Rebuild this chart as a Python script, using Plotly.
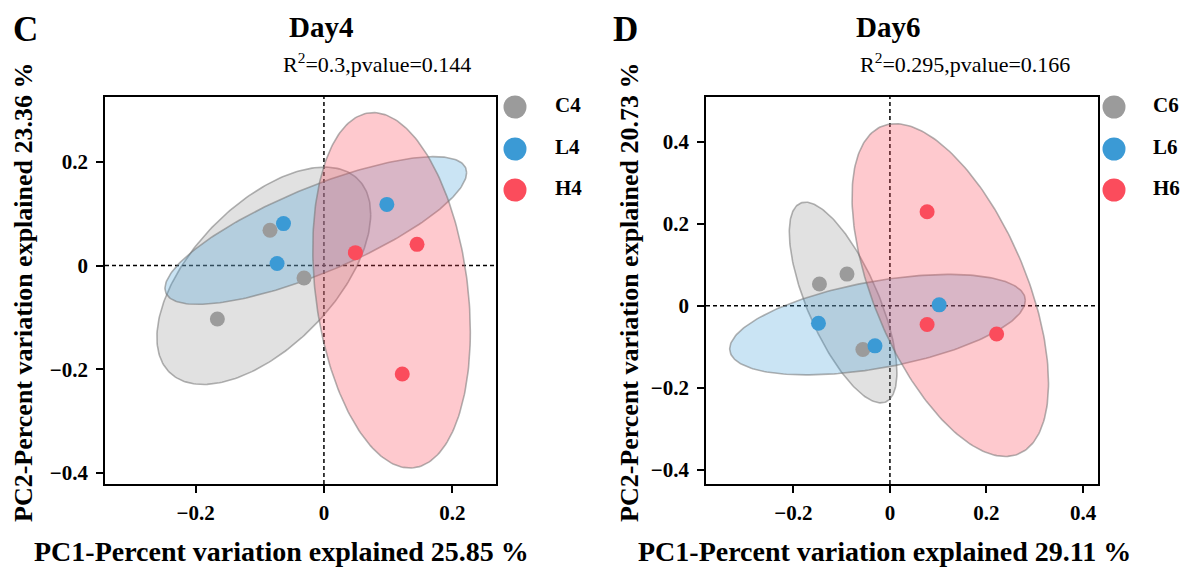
import numpy as np
import plotly.graph_objects as go

# ---------------- data ----------------
groups_day4 = ["C4", "L4", "H4"]
groups_day6 = ["C6", "L6", "H6"]

c4_pc1 = [-0.084, -0.031, -0.166]
c4_pc2 = [0.068, -0.024, -0.103]
l4_pc1 = [-0.063, -0.073, 0.098]
l4_pc2 = [0.081, 0.004, 0.118]
h4_pc1 = [0.049, 0.145, 0.122]
h4_pc2 = [0.025, 0.041, -0.209]

c6_pc1 = [-0.146, -0.089, -0.056]
c6_pc2 = [0.053, 0.077, -0.107]
l6_pc1 = [-0.148, -0.031, 0.102]
l6_pc2 = [-0.043, -0.098, 0.002]
h6_pc1 = [0.077, 0.077, 0.221]
h6_pc2 = [0.229, -0.046, -0.069]

x_ticks_day4 = [-0.2, 0, 0.2]
x_ticklabels_day4 = ["\u22120.2", "0", "0.2"]
y_ticks_day4 = [-0.4, -0.2, 0, 0.2]
y_ticklabels_day4 = ["\u22120.4", "\u22120.2", "0", "0.2"]
x_ticks_day6 = [-0.2, 0, 0.2, 0.4]
x_ticklabels_day6 = ["\u22120.2", "0", "0.2", "0.4"]
y_ticks_day6 = [-0.4, -0.2, 0, 0.2, 0.4]
y_ticklabels_day6 = ["\u22120.4", "\u22120.2", "0", "0.2", "0.4"]

pc1_var = [25.85, 29.11]
pc2_var = [23.36, 20.73]
r2_values = ["0.3", "0.295"]
p_values = ["0.144", "0.166"]
titles = ["Day4", "Day6"]
panel_letters = ["C", "D"]

# ---------------- style / page geometry ----------------
W, H = 1192, 569          # browser window
OFF = 8                   # default <body> margin of the html page
FW, FH = W - OFF, H - OFF  # figure size so that it ends exactly at window edge
FONT = "Liberation Serif"
point_colors = ["#9b9b9b", "#3b9ad5", "#fb4c5c"]
fill_colors = ["rgba(155,155,155,0.30)", "rgba(59,154,213,0.27)", "rgba(251,76,92,0.30)"]
outline = "rgba(115,115,115,0.55)"


def px(x):
    return (x - OFF) / FW


def py(y):
    return 1 - (y - OFF) / FH


K = np.sqrt(-2 * np.log(0.05))  # 95% chi-square radius, df=2


def ellipse(xs, ys, n=240):
    pts = np.vstack([xs, ys])
    mu = pts.mean(axis=1, keepdims=True)
    cov = np.cov(pts)
    L = np.linalg.cholesky(cov)
    t = np.linspace(0, 2 * np.pi, n)
    circ = np.vstack([np.cos(t), np.sin(t)])
    e = mu + K * L @ circ
    return e[0], e[1]


panels = [
    dict(groups=groups_day4, xs=[c4_pc1, l4_pc1, h4_pc1], ys=[c4_pc2, l4_pc2, h4_pc2],
         xaxis="x", yaxis="y", xdom=(105, 496), xr=(-0.341, 0.268), yr=(-0.421, 0.325),
         xt=(x_ticks_day4, x_ticklabels_day4), yt=(y_ticks_day4, y_ticklabels_day4),
         title_x=321, r2_x=377, letter_x=25, ytitle_x=23, xtitle_x=281,
         leg_x=515, leg_tx=555),
    dict(groups=groups_day6, xs=[c6_pc1, l6_pc1, h6_pc1], ys=[c6_pc2, l6_pc2, h6_pc2],
         xaxis="x2", yaxis="y2", xdom=(706, 1098), xr=(-0.381, 0.431), yr=(-0.435, 0.509),
         xt=(x_ticks_day6, x_ticklabels_day6), yt=(y_ticks_day6, y_ticklabels_day6),
         title_x=888, r2_x=965, letter_x=625, ytitle_x=629, xtitle_x=884,
         leg_x=1114, leg_tx=1153),
]

top_px, bottom_px = 97, 484

fig = go.Figure()

for i, p in enumerate(panels):
    # ellipses
    for g, xs, ys, fc in zip(p["groups"], p["xs"], p["ys"], fill_colors):
        ex, ey = ellipse(xs, ys)
        fig.add_trace(go.Scatter(x=ex, y=ey, mode="lines", fill="toself",
                                 fillcolor=fc, line=dict(color=outline, width=1.6),
                                 xaxis=p["xaxis"], yaxis=p["yaxis"], showlegend=False,
                                 hoverinfo="skip"))
    # points
    for g, xs, ys, c in zip(p["groups"], p["xs"], p["ys"], point_colors):
        fig.add_trace(go.Scatter(x=xs, y=ys, mode="markers", name=g,
                                 marker=dict(color=c, size=15, line=dict(width=0)),
                                 xaxis=p["xaxis"], yaxis=p["yaxis"], showlegend=False))

    # legend (drawn on a hidden pixel-space axis)
    leg_y = [107, 149, 190]
    fig.add_trace(go.Scatter(x=[p["leg_x"]] * 3, y=leg_y, mode="markers",
                             marker=dict(color=point_colors, size=23, line=dict(width=0)),
                             xaxis="x3", yaxis="y3", showlegend=False, hoverinfo="skip"))
    fig.add_trace(go.Scatter(x=[p["leg_tx"]] * 3, y=leg_y, mode="text",
                             text=p["groups"], textposition="middle right",
                             textfont=dict(family=FONT, size=21, color="black", weight="bold"),
                             xaxis="x3", yaxis="y3", showlegend=False, hoverinfo="skip"))

    # zero dashed lines
    fig.add_shape(type="line", xref=p["xaxis"], yref=p["yaxis"] + " domain",
                  x0=0, x1=0, y0=0, y1=1, layer="below",
                  line=dict(color="black", width=1.5, dash="4px,3px"))
    fig.add_shape(type="line", xref=p["xaxis"] + " domain", yref=p["yaxis"],
                  x0=0, x1=1, y0=0, y1=0, layer="below",
                  line=dict(color="black", width=1.5, dash="4px,3px"))

    # texts
    fig.add_annotation(text=panel_letters[i], x=px(p["letter_x"]), y=py(30),
                       xref="paper", yref="paper", showarrow=False,
                       font=dict(family=FONT, size=35, color="black", weight="bold"),
                       xanchor="center", yanchor="middle")
    fig.add_annotation(text=titles[i], x=px(p["title_x"]), y=py(27),
                       xref="paper", yref="paper", showarrow=False,
                       font=dict(family=FONT, size=29, color="black", weight="bold"),
                       xanchor="center", yanchor="middle")
    fig.add_annotation(text=f"R<sup>2</sup>={r2_values[i]},pvalue={p_values[i]}",
                       x=px(p["r2_x"]), y=py(63),
                       xref="paper", yref="paper", showarrow=False,
                       font=dict(family=FONT, size=22, color="black"),
                       xanchor="center", yanchor="middle")
    fig.add_annotation(text=f"PC1-Percent variation explained {pc1_var[i]:.2f} %",
                       x=px(p["xtitle_x"]), y=py(551),
                       xref="paper", yref="paper", showarrow=False,
                       font=dict(family=FONT, size=28, color="black", weight="bold"),
                       xanchor="center", yanchor="middle")
    fig.add_annotation(text=f"PC2-Percent variation explained {pc2_var[i]:.2f} %",
                       x=px(p["ytitle_x"]), y=py(292), textangle=-90,
                       xref="paper", yref="paper", showarrow=False,
                       font=dict(family=FONT, size=26, color="black", weight="bold"),
                       xanchor="center", yanchor="middle")

tick_font = dict(family=FONT, size=21, color="black", weight="bold")


def axis(domain, rng, anchor, tv, tt, standoff):
    return dict(domain=domain, range=rng, anchor=anchor,
                showline=True, linecolor="black", linewidth=1.6, mirror=True,
                ticks="outside", ticklen=7, tickwidth=1.6, tickcolor="black",
                showgrid=False, zeroline=False,
                tickmode="array", tickvals=tv, ticktext=tt,
                tickfont=tick_font, ticklabelstandoff=standoff)


p0, p1 = panels
ydom = [py(bottom_px), py(top_px)]
fig.update_layout(
    xaxis=axis([px(p0["xdom"][0]), px(p0["xdom"][1])], list(p0["xr"]), "y", *p0["xt"], 2),
    yaxis=axis(ydom, list(p0["yr"]), "x", *p0["yt"], 4),
    xaxis2=axis([px(p1["xdom"][0]), px(p1["xdom"][1])], list(p1["xr"]), "y2", *p1["xt"], 2),
    yaxis2=axis(ydom, list(p1["yr"]), "x2", *p1["yt"], 4),
    xaxis3=dict(domain=[0, 1], range=[OFF, OFF + FW], visible=False, anchor="y3"),
    yaxis3=dict(domain=[0, 1], range=[OFF + FH, OFF], visible=False, anchor="x3"),
    width=FW, height=FH,
    margin=dict(l=0, r=0, t=0, b=0, autoexpand=False),
    paper_bgcolor="white", plot_bgcolor="rgba(0,0,0,0)",
    showlegend=False,
)

fig.write_html("out.html")
